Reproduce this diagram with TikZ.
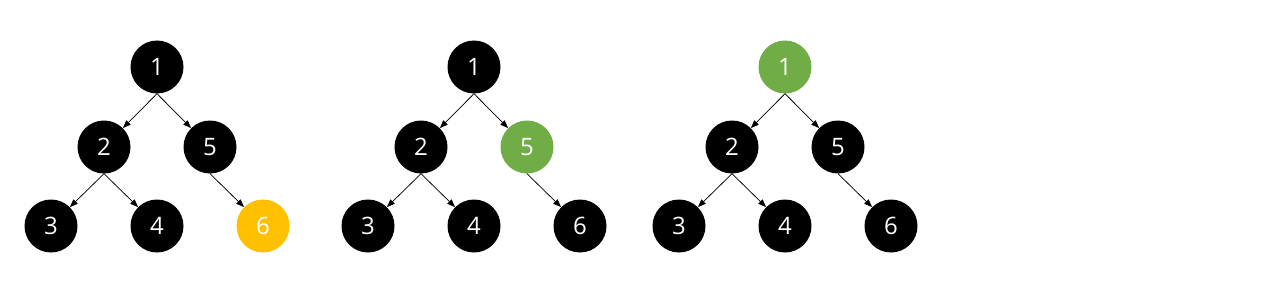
\documentclass[tikz,border=0pt]{standalone}
\usepackage{fontspec}
\setmainfont{Open Sans}
\usetikzlibrary{arrows.meta}
\definecolor{offyellow}{HTML}{FFC000}
\definecolor{offgreen}{HTML}{70AD47}
\begin{document}
\begin{tikzpicture}[x=1pt,y=-1pt,
  tn/.style={circle,fill=black,minimum size=53pt,inner sep=0pt,text=white,font=\fontsize{24}{28}\selectfont},
  ed/.style={-{Triangle[length=8pt,width=6pt]},line width=0.75pt}]
\useasboundingbox (0,0) rectangle (1270,305);
\foreach \t/\dx/\ca/\cb/\cc in {a/0/black/black/offyellow,b/317/black/offgreen/black,c/628/offgreen/black/black}{
  \node[tn,fill=\ca] (\t1) at (157+\dx,67) {1};
  \node[tn] (\t2) at (104+\dx,147) {2};
  \node[tn,fill=\cb] (\t5) at (210+\dx,147) {5};
  \node[tn] (\t3) at (51+\dx,226) {3};
  \node[tn] (\t4) at (157+\dx,226) {4};
  \node[tn,fill=\cc] (\t6) at (263+\dx,226) {6};
  \draw[ed] (\t1.south) -- (\t2.north east);
  \draw[ed] (\t1.south) -- (\t5.north west);
  \draw[ed] (\t2.south) -- (\t3.north east);
  \draw[ed] (\t2.south) -- (\t4.north west);
  \draw[ed] (\t5.south) -- (\t6.north west);
}
\end{tikzpicture}
\end{document}
